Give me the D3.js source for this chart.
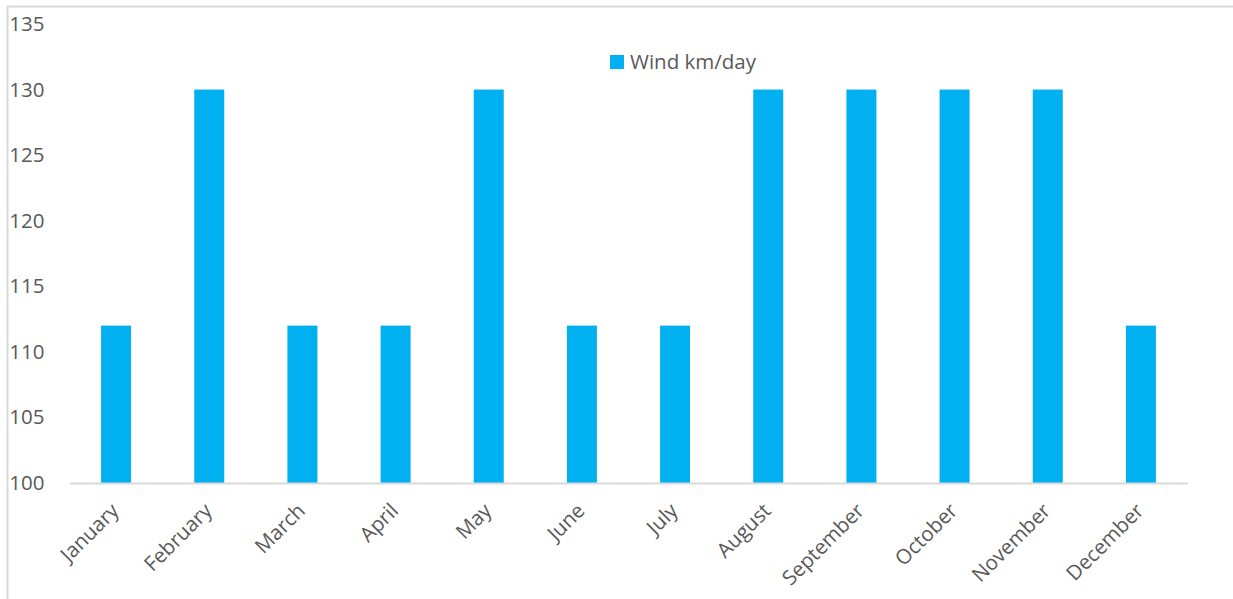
<!DOCTYPE html>
<html>
<head>
<meta charset="utf-8">
<script src="https://cdn.jsdelivr.net/npm/d3@7"></script>
<style>
  html, body { margin: 0; padding: 0; background: #fff; }
  svg { display: block; }
</style>
</head>
<body>
<svg id="chart" width="1233" height="599"></svg>
<script>
// Monthly average wind run
const months = ["January", "February", "March", "April", "May", "June",
                "July", "August", "September", "October", "November", "December"];
const windKmPerDay = [112, 130, 112, 112, 130, 112, 112, 130, 130, 130, 130, 112];
const yTicks = [100, 105, 110, 115, 120, 125, 130, 135];
const seriesName = "Wind km/day";

const W = 1233, H = 599;
const margin = { left: 69.5, right: 1187.5, top: 24, bottom: 483 };
const barColor = "#00B0F0";
const textColor = "#595959";
const font = "'Open Sans', 'DejaVu Sans', sans-serif";
const fontSize = "20.5px";

const svg = d3.select("#chart");

// outer chart frame
svg.append("rect")
  .attr("x", 7.5).attr("y", 6.5)
  .attr("width", W + 10).attr("height", H + 10)
  .attr("fill", "none").attr("stroke", "#d9d9d9").attr("stroke-width", 2);

const x = d3.scaleBand()
  .domain(months)
  .range([margin.left, margin.right])
  .paddingInner(0.678)
  .paddingOuter(0.339);

const y = d3.scaleLinear()
  .domain([100, 135])
  .range([margin.bottom, margin.top]);

// value axis labels (no line, no ticks)
const yAxis = svg.append("g")
  .attr("transform", `translate(${margin.left - 25},0)`)
  .call(d3.axisLeft(y).tickValues(yTicks).tickSize(0).tickPadding(0));
yAxis.select(".domain").remove();
yAxis.selectAll("text")
  .attr("fill", textColor)
  .style("font-family", font)
  .style("font-size", fontSize);

// bars
svg.append("g").selectAll("rect")
  .data(months.map((m, i) => ({ month: m, value: windKmPerDay[i] })))
  .join("rect")
  .attr("x", d => x(d.month))
  .attr("y", d => y(d.value))
  .attr("width", x.bandwidth())
  .attr("height", d => y(100) - y(d.value))
  .attr("fill", barColor);

// category axis
const xAxis = svg.append("g")
  .attr("transform", `translate(0,${margin.bottom})`)
  .call(d3.axisBottom(x).tickSize(0).tickPadding(0));
xAxis.select(".domain")
  .attr("stroke", "#d9d9d9").attr("stroke-width", 2);
xAxis.selectAll("text")
  .attr("fill", textColor)
  .style("font-family", font)
  .style("font-size", fontSize)
  .attr("text-anchor", "end")
  .attr("dy", null)
  .attr("y", 0)
  .attr("transform", "translate(4,29) rotate(-45)");

// legend
const legend = svg.append("g").attr("transform", "translate(610,55)");
legend.append("rect")
  .attr("width", 14).attr("height", 14)
  .attr("fill", barColor);
legend.append("text")
  .attr("x", 20).attr("y", 7)
  .attr("dy", "0.35em")
  .attr("fill", textColor)
  .style("font-family", font)
  .style("font-size", fontSize)
  .text(seriesName);
</script>
</body>
</html>
